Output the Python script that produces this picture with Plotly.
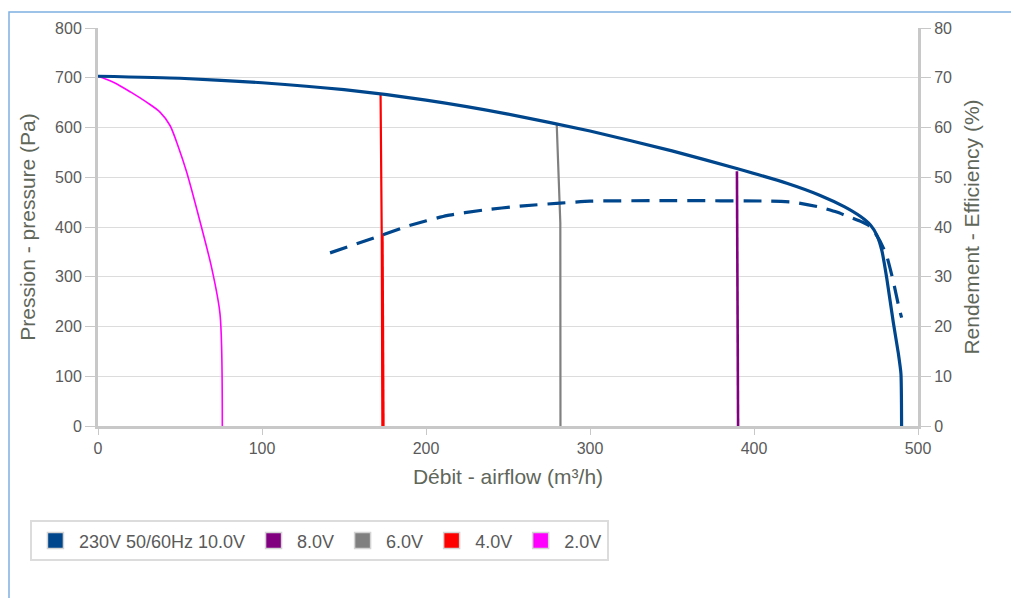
import plotly.graph_objects as go

# ---------------- data ----------------
# 230V 50/60Hz 10.0V : pressure curve (Pa) vs airflow (m3/h)
q_10v = [0, 50, 100, 150, 200, 250, 300, 350, 390, 420, 440, 455, 465, 471, 475, 478, 481, 485, 488, 489.6, 490]
p_10v = [703, 699, 690, 676, 655, 627, 593, 553, 517, 488, 464, 441, 421, 404, 383, 352, 296, 207, 146, 105, 0]
# 10.0V efficiency curve (%) vs airflow
qe_10v = [141.5, 172.6, 188, 212.6, 235, 257.3, 281.7, 300, 350, 410, 424, 440, 450.4, 460, 466, 471, 477, 481, 485, 488.4, 490]
e_10v = [34.8, 38.3, 40.1, 42.3, 43.4, 44.2, 44.8, 45.2, 45.3, 45.2, 45.0, 44.0, 43.0, 41.8, 41.0, 40.1, 37.1, 34.1, 29.0, 23.8, 21.8]

# 8.0V
q_8v = [389.6, 390.3]
p_8v = [512, 0]
# 6.0V
q_6v = [279.7, 281.9, 282.0]
p_6v = [607, 408, 0]
# 4.0V
q_4v = [172.3, 173.0, 173.4]
p_4v = [666, 388, 0]
qe_4v = [173.4, 174.0]
e_4v = [38.6, 0]
# 2.0V
q_2v = [0, 10, 20, 30, 37.8, 43.9, 49, 54, 62.2, 69.3, 74.4, 75.8]
p_2v = [703, 690, 671, 650, 631, 604, 561, 511, 411, 318, 225, 0]

legend_names = ["230V 50/60Hz 10.0V", "8.0V", "6.0V", "4.0V", "2.0V"]
legend_colors = ["#00468c", "#800080", "#808080", "#ff0000", "#ff00ff"]

x_ticks = [0, 100, 200, 300, 400, 500]
y_ticks = [0, 100, 200, 300, 400, 500, 600, 700, 800]
y2_ticks = [0, 10, 20, 30, 40, 50, 60, 70, 80]

# ---------------- figure ----------------
BLUE = legend_colors[0]
fig = go.Figure()

fig.add_trace(go.Scatter(x=q_2v, y=p_2v, mode="lines", line=dict(color=legend_colors[4], width=1.6, shape="spline", smoothing=0.8), showlegend=False, hoverinfo="skip"))
fig.add_trace(go.Scatter(x=q_4v, y=p_4v, mode="lines", line=dict(color=legend_colors[3], width=2.2), showlegend=False, hoverinfo="skip"))
fig.add_trace(go.Scatter(x=qe_4v, y=e_4v, yaxis="y2", mode="lines", line=dict(color=legend_colors[3], width=2.6), showlegend=False, hoverinfo="skip"))
fig.add_trace(go.Scatter(x=q_6v, y=p_6v, mode="lines", line=dict(color=legend_colors[2], width=2.2), showlegend=False, hoverinfo="skip"))
fig.add_trace(go.Scatter(x=q_8v, y=p_8v, mode="lines", line=dict(color=legend_colors[1], width=2.6), showlegend=False, hoverinfo="skip"))
fig.add_trace(go.Scatter(x=qe_10v, y=e_10v, yaxis="y2", mode="lines", line=dict(color=BLUE, width=3.2, dash="18px,10px", shape="spline", smoothing=0.4), showlegend=False, hoverinfo="skip"))
fig.add_trace(go.Scatter(x=q_10v, y=p_10v, mode="lines", line=dict(color=BLUE, width=3.2, shape="spline", smoothing=0.5), showlegend=False, hoverinfo="skip"))

for name, col in zip(legend_names, legend_colors):
    fig.add_trace(go.Scatter(x=[None], y=[None], mode="markers", name=name,
                             marker=dict(symbol="square", size=16, color=col, line=dict(color="#d4d4d4", width=1.5))))

FONT = "Liberation Sans, Arial, sans-serif"
TICKFONT = dict(family=FONT, size=16, color="#5a5a5a")
TITLEFONT = dict(family=FONT, size=21, color="#5f665a")

# the page body has an 8px margin: figure is placed at (8, 8) in the window
fig.update_layout(
    width=1011, height=590,
    margin=dict(l=90, r=101, t=17, b=172),
    paper_bgcolor="white", plot_bgcolor="white",
    showlegend=True,
    legend=dict(orientation="h", x=-0.083, y=-0.237, xanchor="left", yanchor="top",
                bordercolor="#dcdcdc", borderwidth=2, bgcolor="white", itemwidth=37,
                font=dict(family=FONT, size=18, color="#5a5a5a")),
    xaxis=dict(range=[0, 500], tickvals=x_ticks, showgrid=False, zeroline=False,
               showline=True, linecolor="#c8c8c8", linewidth=3,
               ticks="outside", ticklen=6, tickcolor="#c8c8c8", tickwidth=1,
               tickfont=TICKFONT,
               title=dict(text="Débit - airflow (m³/h)", font=TITLEFONT, standoff=14)),
    yaxis=dict(range=[0, 800], tickvals=y_ticks, showgrid=True, gridcolor="#dcdcdc", gridwidth=1,
               zeroline=False, showline=True, linecolor="#c8c8c8", linewidth=3,
               ticks="outside", ticklen=10, tickcolor="#c8c8c8", tickwidth=1,
               tickfont=TICKFONT,
               title=dict(text="Pression - pressure (Pa)", font=TITLEFONT, standoff=14)),
    yaxis2=dict(range=[0, 80], tickvals=y2_ticks, overlaying="y", side="right", showgrid=False,
                zeroline=False, showline=True, linecolor="#c8c8c8", linewidth=3,
                ticks="outside", ticklen=10, tickcolor="#c8c8c8", tickwidth=1,
                tickfont=TICKFONT,
                title=dict(text="Rendement - Efficiency (%)", font=TITLEFONT, standoff=14)),
    shapes=[dict(type="rect", xref="paper", yref="paper",
                 x0=(9 - 98) / 820, x1=(1016 - 98) / 820, y0=-0.5, y1=1 + 16 / 401,
                 line=dict(color="#7fb0e2", width=1.5), fillcolor="rgba(0,0,0,0)", layer="below")],
)

fig.write_html("out.html")
